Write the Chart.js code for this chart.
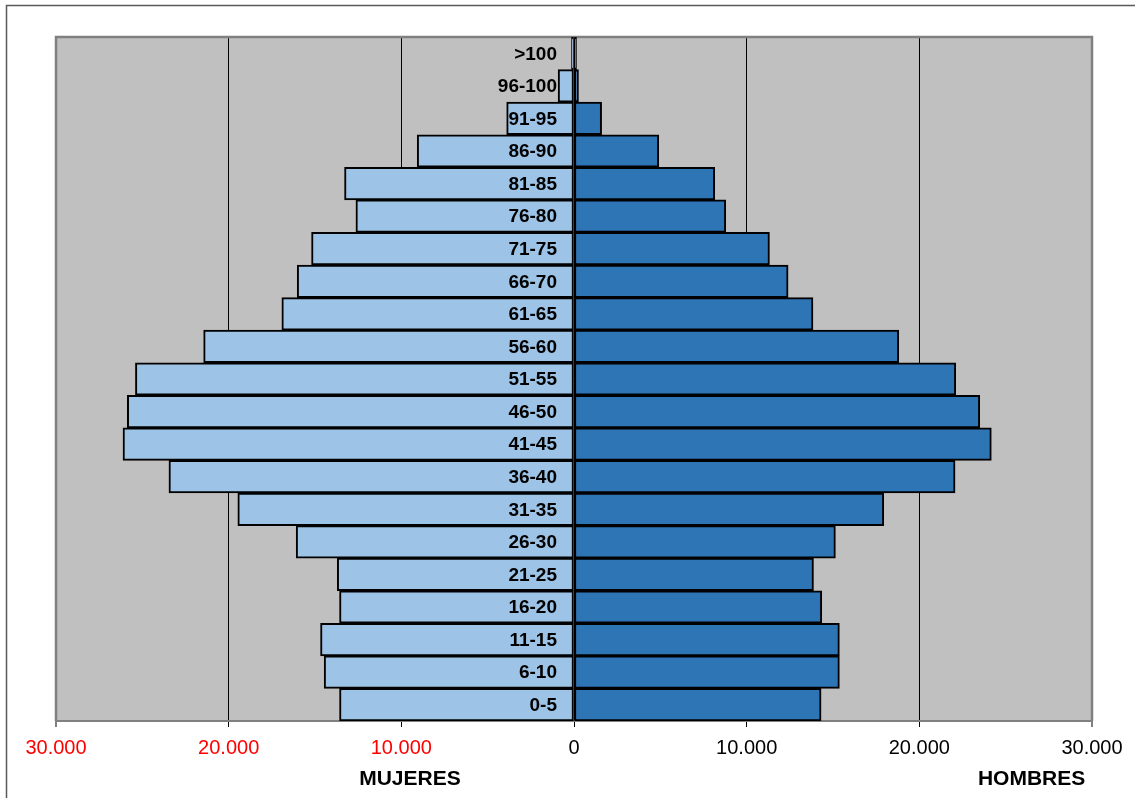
<!DOCTYPE html>
<html lang="es">
<head>
<meta charset="UTF-8">
<title>Pirámide de población</title>
<script src="https://cdn.jsdelivr.net/npm/chart.js"></script>
<style>
    body { margin: 0; background: #fff; }
    #wrap { position: relative; width: 1135px; height: 798px; }
</style>
</head>
<body>
<div id="wrap"><canvas id="pyramid" width="1135" height="798"></canvas></div>
<script>
    // age groups, bottom to top
    const ageGroups = ['0-5', '6-10', '11-15', '16-20', '21-25', '26-30', '31-35', '36-40', '41-45', '46-50',
        '51-55', '56-60', '61-65', '66-70', '71-75', '76-80', '81-85', '86-90', '91-95', '96-100', '>100'];
    const mujeres = [13580, 14470, 14680, 13580, 13710, 16090, 19470, 23460, 26120, 25870,
        25400, 21450, 16920, 16030, 15200, 12630, 13290, 9080, 3900, 920, 130];
    const hombres = [14310, 15370, 15370, 14350, 13870, 15140, 17940, 22070, 24170, 23500,
        22110, 18810, 13840, 12400, 11320, 8790, 8150, 4910, 1600, 260, 110];
    const xTicks = [-30000, -20000, -10000, 0, 10000, 20000, 30000];
    const sideTitles = ['MUJERES', 'HOMBRES'];

    function fmt(v) {
        return String(Math.abs(v)).replace(/\B(?=(\d{3})+(?!\d))/g, '.');
    }

    // grey plot background, outer frame and plot border
    const framePlugin = {
        id: 'frame',
        beforeDraw(chart) {
            const c = chart.ctx, a = chart.chartArea;
            c.save();
            c.fillStyle = '#C0C0C0';
            c.fillRect(a.left, a.top, a.right - a.left, a.bottom - a.top);
            c.strokeStyle = '#595959';
            c.lineWidth = 1.5;
            c.beginPath();
            c.moveTo(6.5, 800);
            c.lineTo(6.5, 5.5);
            c.lineTo(1140, 5.5);
            c.stroke();
            c.restore();
        },
        beforeDatasetsDraw(chart) {
            const c = chart.ctx, a = chart.chartArea;
            c.save();
            c.strokeStyle = '#808080';
            c.lineWidth = 2.5;
            c.beginPath();
            c.moveTo(a.left, a.bottom);
            c.lineTo(a.left, a.top);
            c.lineTo(a.right, a.top);
            c.lineTo(a.right, a.bottom);
            c.stroke();
            c.restore();
        }
    };

    // age labels in the middle and the two side titles
    const labelPlugin = {
        id: 'ageLabels',
        afterDatasetsDraw(chart) {
            const c = chart.ctx;
            const xs = chart.scales.x, ys = chart.scales.y;
            const x0 = xs.getPixelForValue(0);
            c.save();
            c.fillStyle = '#000';
            c.font = 'bold 19px "Liberation Sans", Arial, sans-serif';
            c.textAlign = 'right';
            c.textBaseline = 'middle';
            ageGroups.forEach((g, i) => {
                c.fillText(g, x0 - 17, ys.getPixelForValue(i) + 1);
            });
            c.font = 'bold 21px "Liberation Sans", Arial, sans-serif';
            c.textAlign = 'center';
            c.fillText(sideTitles[0], xs.getPixelForValue(-9500), 779);
            c.fillText(sideTitles[1], xs.getPixelForValue(26500), 779);
            c.restore();
        }
    };

    new Chart(document.getElementById('pyramid'), {
        type: 'bar',
        data: {
            labels: ageGroups,
            datasets: [{
                label: 'Mujeres',
                data: mujeres.map(v => -v),
                backgroundColor: '#9DC3E6',
                borderColor: '#000',
                borderWidth: 2,
                borderSkipped: false,
                minBarLength: 2.5,
                barPercentage: 1,
                categoryPercentage: 1
            }, {
                label: 'Hombres',
                data: hombres,
                backgroundColor: '#2E75B6',
                borderColor: '#000',
                borderWidth: 2,
                borderSkipped: false,
                minBarLength: 2.5,
                barPercentage: 1,
                categoryPercentage: 1
            }]
        },
        options: {
            indexAxis: 'y',
            responsive: false,
            animation: false,
            layout: { padding: { left: 56, right: 43, top: 37, bottom: 29 } },
            plugins: {
                legend: { display: false },
                tooltip: { enabled: false }
            },
            scales: {
                x: {
                    stacked: true,
                    min: -30000,
                    max: 30000,
                    afterBuildTicks: axis => { axis.ticks = xTicks.map(v => ({ value: v })); },
                    grid: {
                        color: ctx => Math.abs(ctx.tick.value) === 30000 ? '#808080' : '#000',
                        lineWidth: ctx => Math.abs(ctx.tick.value) === 30000 ? 2 : 1,
                        tickLength: 6
                    },
                    border: { color: '#808080', width: 2 },
                    ticks: {
                        padding: 9,
                        maxRotation: 0,
                        autoSkip: false,
                        font: { family: '"Liberation Sans", Arial, sans-serif', size: 20 },
                        color: ctx => ctx.tick.value < 0 ? '#FF0000' : '#000',
                        callback: v => fmt(v)
                    }
                },
                y: {
                    stacked: true,
                    reverse: true,
                    display: false
                }
            }
        },
        plugins: [framePlugin, labelPlugin]
    });
</script>
</body>
</html>
